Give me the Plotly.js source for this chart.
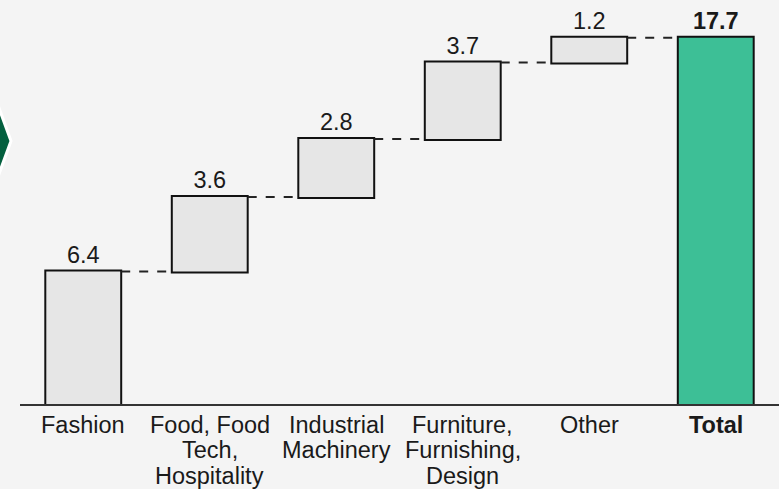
<!DOCTYPE html>
<html>
<head>
<meta charset="utf-8">
<script src="https://cdn.plot.ly/plotly-3.0.1.min.js"></script>
<style>
  html, body { margin: 0; padding: 0; background: #f4f4f4; }
  #chart { width: 779px; height: 489px; }
</style>
</head>
<body>
<div id="chart"></div>
<script>
// ---- data ----
const categories = ["Fashion", "Food, Food<br>Tech,<br>Hospitality", "Industrial<br>Machinery", "Furniture,<br>Furnishing,<br>Design", "Other", "Total"];
const values = [6.4, 3.6, 2.8, 3.7, 1.2, 17.7];
const measures = ["relative", "relative", "relative", "relative", "relative", "total"];
const valueLabels = ["6.4", "3.6", "2.8", "3.7", "1.2", "17.7"];
const boldCategories = ["Total"];

// ---- layout constants ----
const W = 779, H = 489;
const M = { l: 20, r: 0, t: 0, b: 85 };
const FONT = "Liberation Sans, Arial, sans-serif";
const FS = 23.5;
const plotW = W - M.l - M.r, plotH = H - M.t - M.b;
const px2x = px => (px - M.l) / plotW;
const px2y = py => (H - M.b - py) / plotH;

const text = valueLabels.map((v, i) => measures[i] === "total" ? "<b>" + v + "</b>" : v);

const trace = {
  type: "waterfall",
  x: categories,
  y: values,
  measure: measures,
  text: text,
  textinfo: "text",
  textposition: "outside",
  cliponaxis: false,
  textfont: { family: FONT, size: FS, color: "#1a1a1a" },
  width: 0.6,
  increasing: { marker: { color: "#e6e6e6", line: { color: "#111111", width: 2 } } },
  decreasing: { marker: { color: "#e6e6e6", line: { color: "#111111", width: 2 } } },
  totals: { marker: { color: "#3dbf96", line: { color: "#111111", width: 2 } } },
  connector: { mode: "between", line: { color: "#222222", width: 2, dash: "dash" } },
  hoverinfo: "skip"
};

// category labels as annotations, one per line (tight line spacing)
const annotations = [];
const lineShift = [-20.5, -46, -71.5];
categories.forEach((c, i) => {
  const lines = c.split("<br>");
  const bold = boldCategories.includes(c);
  lines.forEach((ln, j) => {
    annotations.push({
      x: c, xref: "x", y: 0, yref: "paper",
      yshift: lineShift[j], yanchor: "middle", xanchor: "center",
      text: bold ? "<b>" + ln + "</b>" : ln,
      showarrow: false,
      font: { family: FONT, size: FS, color: "#1a1a1a" }
    });
  });
});

// chevron at left edge
const pts = [[-30, 86], [-9, 86], [11, 141], [-9, 196], [-30, 196]];
const path = "M " + pts.map(p => px2x(p[0]).toFixed(5) + "," + px2y(p[1]).toFixed(5)).join(" L ") + " Z";

const layout = {
  width: W, height: H,
  margin: M,
  paper_bgcolor: "#f4f4f4",
  plot_bgcolor: "#f4f4f4",
  showlegend: false,
  font: { family: FONT, size: FS, color: "#1a1a1a" },
  xaxis: {
    type: "category",
    range: [-0.5, 5.5],
    showticklabels: false,
    ticks: "",
    showgrid: false,
    zeroline: false,
    showline: true,
    linecolor: "#333333",
    linewidth: 2
  },
  yaxis: {
    range: [0, 19.52],
    visible: false,
    showgrid: false,
    zeroline: false
  },
  annotations: annotations,
  shapes: [{
    type: "path", xref: "paper", yref: "paper",
    path: path,
    fillcolor: "#04603f",
    line: { color: "#ffffff", width: 3 },
    layer: "above"
  }]
};

Plotly.newPlot("chart", [trace], layout, { displayModeBar: false, staticPlot: true });
</script>
</body>
</html>
